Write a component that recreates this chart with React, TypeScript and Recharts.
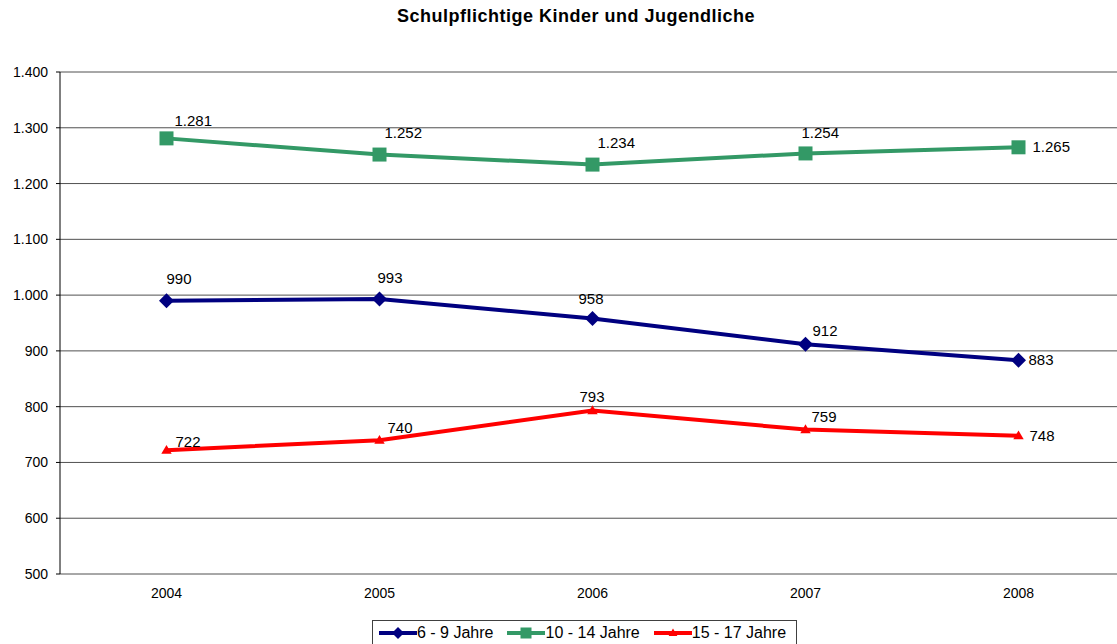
import React from "react";
import { LineChart, Line, XAxis, YAxis, CartesianGrid, LabelList } from "recharts";

// values
const years = [2004, 2005, 2006, 2007, 2008];
const kids6to9 = [990, 993, 958, 912, 883];
const kids10to14 = [1281, 1252, 1234, 1254, 1265];
const kids15to17 = [722, 740, 793, 759, 748];
const yTicks = [500, 600, 700, 800, 900, 1000, 1100, 1200, 1300, 1400];

const FONT = "'Liberation Sans', Arial, sans-serif";

const data = years.map((year, i) => ({
    year,
    a: kids6to9[i],
    b: kids10to14[i],
    c: kids15to17[i],
}));

// German thousands separator: 1400 -> "1.400"
const fmt = (v: number) => String(v).replace(/\B(?=(\d{3})+(?!\d))/g, ".");

type Shape = "diamond" | "square" | "triangle";

const series: {
    key: string;
    name: string;
    color: string;
    shape: Shape;
    labelOffsets: [number, number][];
}[] = [
    { key: "a", name: "6 - 9 Jahre", color: "#000080", shape: "diamond", labelOffsets: [[0, -17], [-2, -16], [-14, -15], [7, -8], [10, 5]] },
    { key: "b", name: "10 - 14 Jahre", color: "#339966", shape: "square", labelOffsets: [[8, -12], [5, -17], [5, -17], [-4, -15], [14, 5]] },
    { key: "c", name: "15 - 17 Jahre", color: "#FF0000", shape: "triangle", labelOffsets: [[9, -3], [8, -7], [-13, -9], [6, -8], [11, 5]] },
];

function Marker({ shape, cx, cy, color, r }: { shape: Shape; cx: number; cy: number; color: string; r: number }) {
    if (shape === "square") {
        return <rect x={cx - r} y={cy - r} width={r * 2} height={r * 2} fill={color} />;
    }
    if (shape === "diamond") {
        const d = r + 0.5;
        return <polygon points={`${cx},${cy - d} ${cx + d},${cy} ${cx},${cy + d} ${cx - d},${cy}`} fill={color} />;
    }
    const w = r * 0.8;
    return <polygon points={`${cx},${cy - w} ${cx + w},${cy + w * 0.7} ${cx - w},${cy + w * 0.7}`} fill={color} />;
}

function LegendBox() {
    return (
        <div
            style={{
                position: "absolute",
                left: 372,
                top: 620,
                width: 425,
                height: 40,
                border: "1px solid #404040",
                boxSizing: "border-box",
                display: "flex",
                flexWrap: "nowrap",
                alignItems: "flex-start",
                whiteSpace: "nowrap",
                overflow: "hidden",
                paddingLeft: 6,
                paddingTop: 3,
                fontFamily: FONT,
                fontSize: 16,
                color: "#000",
            }}
        >
            {series.map((s) => (
                <div key={s.key} style={{ display: "flex", alignItems: "center", marginRight: 14, flexShrink: 0 }}>
                    <svg width={38} height={16} style={{ flexShrink: 0 }}>
                        <line x1={0} y1={8} x2={38} y2={8} stroke={s.color} strokeWidth={4} />
                        <Marker shape={s.shape} cx={19} cy={8} color={s.color} r={5.5} />
                    </svg>
                    <span style={{ lineHeight: "18px", whiteSpace: "nowrap" }}>{s.name}</span>
                </div>
            ))}
        </div>
    );
}

export default function App() {
    return (
        <div
            style={{
                position: "absolute",
                left: 0,
                top: 0,
                width: 1117,
                height: 644,
                overflow: "hidden",
                background: "#fff",
            }}
        >
            <div
                style={{
                    position: "absolute",
                    left: 0,
                    top: 6,
                    width: 1152,
                    textAlign: "center",
                    fontFamily: FONT,
                    fontWeight: "bold",
                    fontSize: 18,
                    letterSpacing: 0.5,
                    color: "#000",
                }}
            >
                Schulpflichtige Kinder und Jugendliche
            </div>
            <div style={{ position: "absolute", left: 0, top: 0 }}>
                <LineChart width={1125} height={644} data={data} margin={{ top: 72, right: 0, left: 0, bottom: 30 }}>
                    <CartesianGrid vertical={false} stroke="#505050" />
                    {/* tick marks sit between the categories */}
                    <XAxis
                        xAxisId="marks"
                        dataKey="year"
                        type="number"
                        domain={[2003.5, 2008.5]}
                        ticks={[2003.5, 2004.5, 2005.5, 2006.5, 2007.5, 2008.5]}
                        tick={false}
                        tickSize={6}
                        height={0}
                        axisLine={{ stroke: "#000" }}
                        tickLine={{ stroke: "#000" }}
                    />
                    <XAxis
                        xAxisId="labels"
                        dataKey="year"
                        type="number"
                        domain={[2003.5, 2008.5]}
                        ticks={years}
                        axisLine={false}
                        tickLine={false}
                        tickSize={0}
                        tickMargin={14}
                        height={40}
                        tick={{ fill: "#000", fontSize: 14, fontFamily: FONT }}
                    />
                    <YAxis
                        type="number"
                        domain={[500, 1400]}
                        ticks={yTicks}
                        width={60}
                        tickSize={4}
                        tickMargin={8}
                        tickFormatter={fmt}
                        axisLine={{ stroke: "#000" }}
                        tickLine={{ stroke: "#000" }}
                        tick={{ fill: "#000", fontSize: 14, fontFamily: FONT }}
                        allowDataOverflow
                    />
                    {series.map((s) => (
                        <Line
                            key={s.key}
                            xAxisId="labels"
                            dataKey={s.key}
                            name={s.name}
                            type="linear"
                            stroke={s.color}
                            strokeWidth={4}
                            isAnimationActive={false}
                            dot={(p: any) => (
                                <g key={`${s.key}-dot-${p.index}`}>
                                    <Marker shape={s.shape} cx={p.cx} cy={p.cy} color={s.color} r={s.shape === "triangle" ? 6.5 : 7} />
                                </g>
                            )}
                            activeDot={false}
                        >
                            <LabelList
                                dataKey={s.key}
                                content={(p: any) => {
                                    const [dx, dy] = s.labelOffsets[p.index] || [0, 0];
                                    return (
                                        <text
                                            x={Number(p.x) + dx}
                                            y={Number(p.y) + dy}
                                            fontSize={15}
                                            fontFamily={FONT}
                                            fill="#000"
                                        >
                                            {fmt(Number(p.value))}
                                        </text>
                                    );
                                }}
                            />
                        </Line>
                    ))}
                </LineChart>
            </div>
            <LegendBox />
        </div>
    );
}
